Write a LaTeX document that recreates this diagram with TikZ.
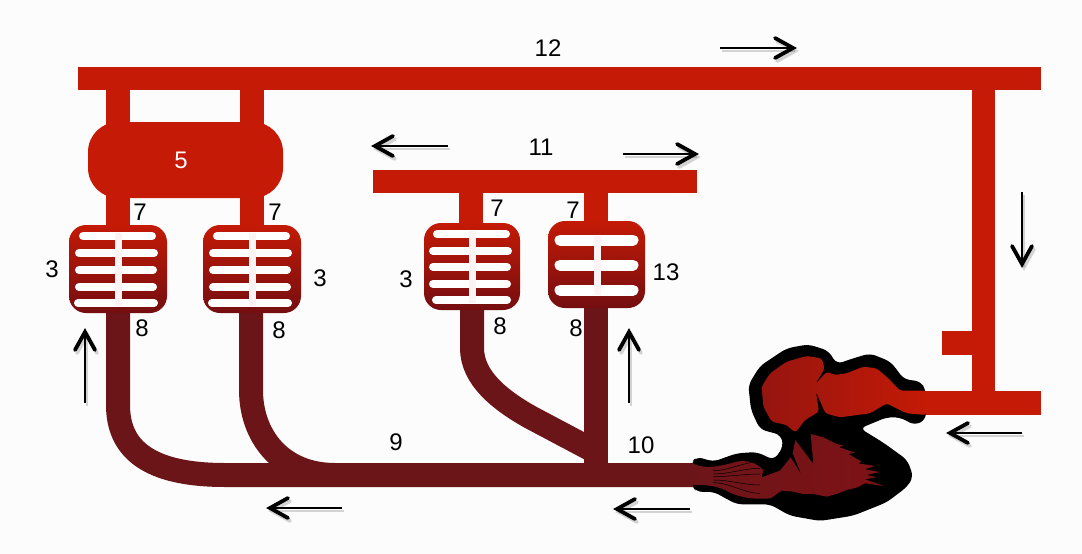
\documentclass[tikz,border=0pt]{standalone}
\usepackage{fontspec}
\setmainfont{Liberation Sans}

\definecolor{artred}{HTML}{C41A06}
\definecolor{veindark}{HTML}{6B1519}
\definecolor{beddark}{HTML}{740E10}
\definecolor{stempink}{HTML}{FBF3F4}
\definecolor{heartred}{HTML}{96150F}
\definecolor{heartlow}{HTML}{7E1216}

\tikzset{
  artery/.style={fill=artred},
  vein/.style={draw=veindark, line width=24pt},
  bedbox/.style={top color=artred, bottom color=beddark, rounded corners=17pt},
  slot/.style={draw=white, line cap=round},
  stem/.style={fill=stempink},
  lbl/.style={font=\fontsize{24}{26}\selectfont},
  flowline/.style={line width=1.5pt},
  flowhead/.style={line width=3.8pt, line cap=round, line join=miter},
}

%% x, y of the tip, direction, length of the shaft
\newcommand{\flowarrow}[4]{
  \begin{scope}[shift={(#1+2,#2+3)}, rotate=#3, black, opacity=0.16]
    \draw[flowline] (-#4,0) -- (-2,0);
    \draw[flowhead] (-20,-10) -- (-2,0) -- (-20,10);
  \end{scope}
  \begin{scope}[shift={(#1,#2)}, rotate=#3]
    \draw[flowline] (-#4,0) -- (-2,0);
    \draw[flowhead] (-20,-10) -- (-2,0) -- (-20,10);
  \end{scope}
}

\begin{document}
\begin{tikzpicture}[x=1pt, y=-1pt]

  %% Page
  \fill[black!1] (0,0) rectangle (1082,554);
  \useasboundingbox (0,0) rectangle (1082,554);

  %% Veins running back from the beds
  \draw[vein] (118,305) -- (118,405) .. controls (118,450) and (150,475) .. (225,475) -- (700,475);
  \draw[vein] (251,305) -- (251,390) .. controls (251,435) and (280,475) .. (335,475);
  \draw[vein] (472,300) -- (472,348) .. controls (472,378) and (500,400) .. (530,417) -- (596,452);
  \draw[vein] (596,300) -- (596,475);

  %% Main arteries
  \fill[artery] (78,67) rectangle (1041,90);
  \fill[artery] (972,90) rectangle (995,415);
  \fill[artery] (942,331) rectangle (972,355);
  \fill[artery] (900,391) rectangle (1041,415);
  \fill[artery] (373,170) rectangle (697,193);

  %% Branches
  \foreach \x in {106,240} \fill[artery] (\x,90) rectangle ++(24,140);
  \fill[artery] (459,193) rectangle (483,230);
  \fill[artery] (584,193) rectangle (608,230);
  \fill[artery, rounded corners=30pt] (88,122) rectangle (283,198);

  %% Capillary beds
  \shade[bedbox] (69,225) rectangle (167,313);
  \foreach \y/\a/\b in {236/83/152, 253/79/154, 270/79/153, 287/79/153, 303/78/154}
    \draw[slot, line width=8pt] (\a,\y) -- (\b,\y);
  \fill[stem] (114.5,233) rectangle (121.5,306);

  \shade[bedbox] (203,225) rectangle (301,313);
  \foreach \y/\a/\b in {236/217/286, 253/213/288, 270/213/287, 287/213/287, 303/212/288}
    \draw[slot, line width=8pt] (\a,\y) -- (\b,\y);
  \fill[stem] (248.5,233) rectangle (255.5,306);

  \shade[bedbox] (424,223) rectangle (520,310);
  \foreach \y/\a/\b in {234/437/506, 251/433/508, 267/433/507, 284/433/507, 300/436/507}
    \draw[slot, line width=8pt] (\a,\y) -- (\b,\y);
  \fill[stem] (468.5,231) rectangle (475.5,303);

  %% Wider slots in the last bed
  \shade[bedbox] (548,221) rectangle (645,308);
  \foreach \y in {240,265,290}
    \draw[slot, line width=11pt] (560,\y) -- (633,\y);
  \fill[stem] (593.5,236) rectangle (600.5,295);

  %% Heart
  \begin{scope}[shift={(680,320)}, x=0.3333pt, y=-0.3333pt]
    \fill[black, rounded corners=6pt]
      (738,212) -- (722,184) -- (672,178) -- (632,125) -- (570,100) -- (520,115)
      -- (470,132) -- (445,92) -- (385,73) -- (320,85) -- (240,138) -- (205,195)
      -- (213,270) -- (240,328) -- (303,345) -- (310,380) -- (282,420) -- (230,396)
      -- (170,400) -- (100,425) -- (50,410) -- (34,428) -- (36,498) -- (50,516)
      -- (100,515) -- (170,553) -- (270,553) -- (330,587) -- (420,603) -- (520,587)
      -- (620,547) -- (682,500) -- (700,470) -- (682,420) -- (610,368) -- (540,325)
      -- (620,292) -- (660,292) -- (705,316) -- (738,298) -- cycle;

    %% Upper chambers
    \shade[left color=heartred, right color=artred, rounded corners=3pt]
      (740,212) -- (660,212) -- (625,175) -- (590,145) -- (550,140) -- (500,160)
      -- (465,165) -- (440,155) -- (406,193) -- (434,145) -- (425,115) -- (380,108)
      -- (320,125) -- (270,160) -- (245,200) -- (250,260) -- (275,305) -- (320,315)
      -- (346,338) -- (375,300) -- (417,275) -- (408,215) -- (436,280) -- (480,292)
      -- (570,280) -- (620,250) -- (680,280) -- (740,285) -- cycle;

    %% Lower chamber and the flared inlet
    \shade[left color=veindark, right color=heartlow]
      (0,430) -- (38,430) .. controls (70,445) and (100,445) .. (170,425)
      .. controls (200,420) and (225,425) .. (250,450) -- (245,472) -- (300,452)
      -- (332,412) -- (365,465) -- (338,400) -- (346,360) -- (400,432) -- (392,342)
      -- (430,352) -- (470,372) -- (490,376) -- (478,382) -- (525,398) -- (505,402)
      -- (545,425) -- (535,430) -- (585,438) -- (555,448) -- (600,456) -- (560,465)
      -- (590,472) -- (555,478) -- (612,498) -- (555,490) -- (530,503) -- (500,510)
      -- (470,522) -- (440,530) -- (400,522) -- (370,522) -- (340,515)
      -- (305,512) -- (272,535) .. controls (210,540) and (170,530) .. (135,510)
      .. controls (100,495) and (70,495) .. (45,495) -- (0,498) -- cycle;

    %% Fibres of the inlet
    \foreach \ya/\yb in {452/425, 462/445, 470/462, 480/495, 488/520}
      \draw[black, line width=0.5pt] (100,\ya) .. controls (150,\ya) and (190,\yb) .. (240,\yb);
  \end{scope}

  %% Flow direction
  \foreach \tipx/\tipy/\dir/\len in {795/48/0/75, 373/146/180/75, 697/154/0/74,
      1022/266/-90/74, 948/433/180/74, 615/509/180/75, 268/508/180/74,
      85/330/90/73, 629/330/90/73} {
    \flowarrow{\tipx}{\tipy}{\dir}{\len}
  }

  %% Labels
  \node[lbl] (aorta) at (548,48) {12};
  \node[lbl] (carotid) at (541,147) {11};
  \node[lbl, white] (organ) at (181,160) {5};
  \node[lbl] (in1) at (140,212) {7};
  \node[lbl] (in2) at (275,212) {7};
  \node[lbl] (in3) at (497,208) {7};
  \node[lbl] (in4) at (573,210) {7};
  \node[lbl] (bed1) at (52,269) {3};
  \node[lbl] (bed2) at (320,278) {3};
  \node[lbl] (bed3) at (406,279) {3};
  \node[lbl] (bed4) at (666,272) {13};
  \node[lbl] (out1) at (142,328) {8};
  \node[lbl] (out2) at (279,330) {8};
  \node[lbl] (out3) at (500,326) {8};
  \node[lbl] (out4) at (576,328) {8};
  \node[lbl] (venaA) at (396,442) {9};
  \node[lbl] (venaB) at (641,445) {10};

\end{tikzpicture}
\end{document}
